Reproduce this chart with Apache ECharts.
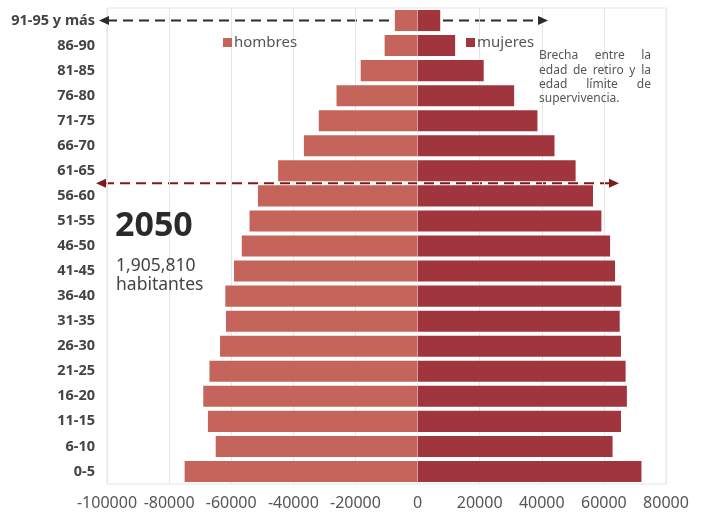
<!DOCTYPE html>
<html><head><meta charset="utf-8">
<script src="https://cdn.jsdelivr.net/npm/echarts@6/dist/echarts.min.js"></script>
<style>html,body{margin:0;padding:0;background:#fff}#c{width:707px;height:514px}</style>
</head><body><div id="c"></div>
<script>
const categories = ['0-5','6-10','11-15','16-20','21-25','26-30','31-35','36-40','41-45','46-50','51-55','56-60','61-65','66-70','71-75','76-80','81-85','86-90','91-95 y más'];
const hombres = [75000,65000,67500,69000,67000,63600,61700,61900,59100,56600,54100,51400,44900,36600,31800,26100,18300,10600,7300];
const mujeres = [72100,62800,65500,67400,67000,65500,65100,65600,63600,62000,59200,56500,50900,44100,38600,31100,21300,12100,7300];
const xTicks = {min:-100000, max:80000, interval:20000};
const FONT = '"Noto Sans", sans-serif';

const chart = echarts.init(document.getElementById('c'));
chart.setOption({
  animation:false,
  textStyle:{fontFamily:FONT},
  grid:{left:107,right:41,top:8,bottom:30,show:true,borderColor:'#e4e4e4',borderWidth:1},
  legend:[
    {data:['hombres'],left:218,top:30,itemWidth:9,itemHeight:9,icon:'rect',itemGap:4,
     textStyle:{color:'#555',fontSize:15,fontFamily:FONT,padding:[0,0,0,-3]}},
    {data:['mujeres'],left:461,top:30,itemWidth:9,itemHeight:9,icon:'rect',itemGap:4,
     textStyle:{color:'#555',fontSize:15,fontFamily:FONT,padding:[0,0,0,-3]}}
  ],
  xAxis:{type:'value',min:xTicks.min,max:xTicks.max,interval:xTicks.interval,
    axisLine:{show:false},axisTick:{show:false},
    splitLine:{lineStyle:{color:'#e6e6e6'}},
    axisLabel:{color:'#555',fontSize:16,margin:11,fontFamily:FONT,formatter:v=>String(v)}},
  yAxis:{type:'category',data:categories,
    axisLine:{show:false},axisTick:{show:false},
    axisLabel:{color:'#444',fontSize:14.5,fontWeight:'bold',margin:12,fontFamily:FONT}},
  series:[
    {name:'hombres',type:'bar',stack:'p',data:hombres.map(v=>-v),barCategoryGap:'16%',
     itemStyle:{color:'#c4645a'}},
    {name:'mujeres',type:'bar',stack:'p',data:mujeres,barCategoryGap:'16%',
     itemStyle:{color:'#a0353d'},
     markLine:{silent:true,symbol:'none',label:{show:false},
       lineStyle:{color:'rgba(255,255,255,0.35)',type:'solid',width:1},
       data:[{xAxis:0}]}}
  ]
});

// annotations
const yTop = chart.convertToPixel({yAxisIndex:0}, categories[18]);
const y61 = chart.convertToPixel({yAxisIndex:0}, categories[12]);
const y56 = chart.convertToPixel({yAxisIndex:0}, categories[11]);
const yRed = (y61 + y56)/2;
function arrow(x1,x2,y,color){
  return [
    {type:'line',shape:{x1:x1+8,y1:y,x2:x2-8,y2:y},z:-1,
     style:{stroke:color,lineWidth:2,lineDash:[10,6]}},
    {type:'polygon',shape:{points:[[x1,y],[x1+10,y-4.5],[x1+10,y+4.5]]},z:100,style:{fill:color}},
    {type:'polygon',shape:{points:[[x2,y],[x2-10,y-4.5],[x2-10,y+4.5]]},z:100,style:{fill:color}}
  ];
}
const g = [].concat(
  arrow(99,548,yTop,'#2b2b2b'),
  arrow(96,619,yRed,'#7f1a1a'),
  [
    {type:'text',x:115,y:226,z:100,style:{text:'2050',fill:'#2a2a2a',font:'bold 34px '+FONT,textVerticalAlign:'middle'}},
    {type:'text',x:116,y:266,z:100,style:{text:'1,905,810',fill:'#444',font:'17.5px '+FONT,textVerticalAlign:'middle'}},
    {type:'text',x:116,y:285,z:100,style:{text:'habitantes',fill:'#444',font:'17.5px '+FONT,textVerticalAlign:'middle'}}
  ]
);
// justified annotation text
const lines = [['Brecha','entre','la'],['edad','de','retiro','y','la'],['edad','límite','de'],['supervivencia.']];
const ax = 539, aw = 112, ay0 = 56, lh = 14.2;
const annoFont = '12px '+FONT;
lines.forEach((words,i)=>{
  const y = ay0 + i*lh;
  if(i===lines.length-1){
    g.push({type:'text',x:ax,y:y,z:100,style:{text:words.join(' '),fill:'#555',font:annoFont,textVerticalAlign:'middle'}});
    return;
  }
  const widths = words.map(w=>echarts.format.getTextRect ? echarts.format.getTextRect(w,annoFont).width : w.length*6.3);
  const total = widths.reduce((a,b)=>a+b,0);
  const gap = (aw-total)/(words.length-1);
  let x = ax;
  words.forEach((w,j)=>{
    g.push({type:'text',x:x,y:y,z:100,style:{text:w,fill:'#555',font:annoFont,textVerticalAlign:'middle'}});
    x += widths[j]+gap;
  });
});
chart.setOption({graphic:g});
</script></body></html>
